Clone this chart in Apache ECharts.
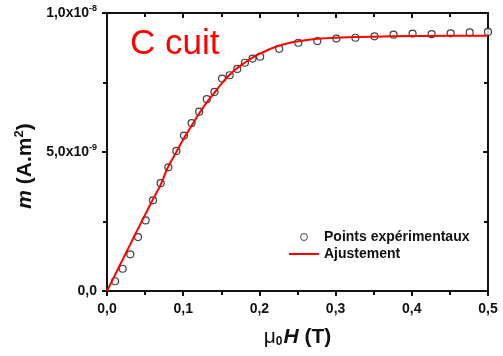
<!DOCTYPE html>
<html>
<head>
<meta charset="utf-8">
<script src="https://cdn.jsdelivr.net/npm/echarts@6/dist/echarts.min.js"></script>
<style>
  html, body { margin: 0; background: #fff; }
  #main { width: 503px; height: 356px; }
</style>
</head>
<body>
<div id="main"></div>
<script>
// mu0H in T, m in units of 1e-9 A.m2
const pointsH = [0.0105, 0.0206, 0.0306, 0.0407, 0.0507, 0.0604, 0.0704, 0.0805, 0.091, 0.101,
  0.111, 0.121, 0.131, 0.141, 0.151, 0.161, 0.171, 0.181, 0.191, 0.201,
  0.226, 0.251, 0.276, 0.301, 0.326, 0.351, 0.376, 0.401, 0.426, 0.451, 0.476, 0.5];
const pointsM = [0.35, 0.80, 1.32, 1.94, 2.54, 3.26, 3.88, 4.45, 5.04, 5.59,
  6.04, 6.45, 6.90, 7.16, 7.64, 7.76, 7.99, 8.21, 8.36, 8.43,
  8.71, 8.93, 8.99, 9.08, 9.11, 9.16, 9.22, 9.26, 9.24, 9.27, 9.30, 9.32];

const fitH = [0, 0.01, 0.02, 0.03, 0.04, 0.05, 0.06, 0.07, 0.08, 0.09, 0.10,
  0.11, 0.12, 0.13, 0.14, 0.15, 0.16, 0.17, 0.18, 0.19, 0.20,
  0.22, 0.24, 0.26, 0.28, 0.30, 0.35, 0.40, 0.45, 0.50];
const fitM = [0, 0.55, 1.1, 1.65, 2.2, 2.74, 3.28, 3.8, 4.45, 4.95, 5.45,
  5.9, 6.35, 6.75, 7.1, 7.45, 7.75, 8.0, 8.2, 8.38, 8.53,
  8.77, 8.93, 9.02, 9.08, 9.11, 9.15, 9.17, 9.18, 9.18];

const yTickLabels = { 0: '0,0', 5: '5,0x10{sup|-9}', 10: '1,0x10{sup|-8}' };

const font = 'Liberation Sans';
const ink = '#111';

function frameAxis(pos, showLabels) {
  return {
    position: pos,
    axisLine: { show: true, onZero: false, lineStyle: { color: ink, width: 2 } },
    axisTick: { show: true, inside: !showLabels, length: 5, lineStyle: { color: ink, width: 2 } },
    minorTick: { show: true, splitNumber: 2, length: 4, lineStyle: { color: ink, width: 2 } },
    splitLine: { show: false },
    axisLabel: { show: showLabels }
  };
}

const chart = echarts.init(document.getElementById('main'));
chart.setOption({
  animation: false,
  backgroundColor: '#fff',
  title: {
    text: 'C cuit',
    left: 125, top: 22,
    textStyle: { color: '#ff0000', fontSize: 35, fontWeight: 'normal', fontFamily: font }
  },
  legend: {
    orient: 'vertical',
    left: 283, top: 225,
    itemWidth: 30, itemHeight: 7, itemGap: 3,
    textStyle: { fontFamily: font, fontWeight: 'bold', fontSize: 14, color: ink },
    data: [
      { name: 'Points expérimentaux', itemStyle: { borderWidth: 1 } },
      { name: 'Ajustement', itemStyle: { opacity: 0 } }
    ]
  },
  grid: { left: 107, right: 15, top: 13, bottom: 65 },
  xAxis: [
    Object.assign(frameAxis('bottom', true), {
      type: 'value', min: 0, max: 0.5, interval: 0.1,
      axisLabel: {
        margin: 11, color: ink, fontFamily: font, fontWeight: 'bold', fontSize: 14,
        formatter: v => v.toFixed(1).replace('.', ',')
      },
      name: '{mu|μ}{sub|0}{i|H} (T)',
      nameLocation: 'middle', nameGap: 35,
      nameTextStyle: {
        fontFamily: font, fontWeight: 'bold', fontSize: 21, color: ink,
        rich: {
          mu: { fontFamily: font, fontWeight: 'normal', fontSize: 21, color: ink },
          sub: { fontFamily: font, fontWeight: 'bold', fontSize: 12, color: ink, padding: [10, 1, 0, 0] },
          i: { fontFamily: font, fontWeight: 'bold', fontStyle: 'italic', fontSize: 21, color: ink }
        }
      }
    }),
    Object.assign(frameAxis('top', false), { type: 'value', min: 0, max: 0.5, interval: 0.1 })
  ],
  yAxis: [
    Object.assign(frameAxis('left', true), {
      type: 'value', min: 0, max: 10, interval: 5,
      axisLabel: {
        margin: 10, color: ink, fontFamily: font, fontWeight: 'bold', fontSize: 14,
        formatter: v => yTickLabels[v] || '',
        rich: { sup: { fontFamily: font, fontWeight: 'bold', fontSize: 9, color: ink, padding: [0, 0, 9, 0] } }
      },
      name: '{i|m} (A.m{sup|2})',
      nameLocation: 'middle', nameGap: 57, nameRotate: 90,
      nameTextStyle: {
        fontFamily: font, fontWeight: 'bold', fontSize: 21, color: ink, padding: [0, 28, 0, 0],
        rich: {
          i: { fontFamily: font, fontWeight: 'bold', fontStyle: 'italic', fontSize: 21, color: ink },
          sup: { fontFamily: font, fontWeight: 'bold', fontSize: 13, color: ink, padding: [0, 0, 11, 0] }
        }
      }
    }),
    Object.assign(frameAxis('right', false), { type: 'value', min: 0, max: 10, interval: 5 })
  ],
  series: [
    {
      name: 'Points expérimentaux',
      type: 'scatter',
      symbol: 'circle', symbolSize: 7,
      itemStyle: { color: '#fff', borderColor: ink, borderWidth: 1.2 },
      data: pointsH.map((h, i) => [h, pointsM[i]]),
      z: 3
    },
    {
      name: 'Ajustement',
      type: 'line',
      symbol: 'none', smooth: 0.3,
      lineStyle: { color: '#ff0000', width: 2 },
      itemStyle: { color: '#ff0000' },
      data: fitH.map((h, i) => [h, fitM[i]]),
      z: 4
    }
  ]
});
</script>
</body>
</html>
